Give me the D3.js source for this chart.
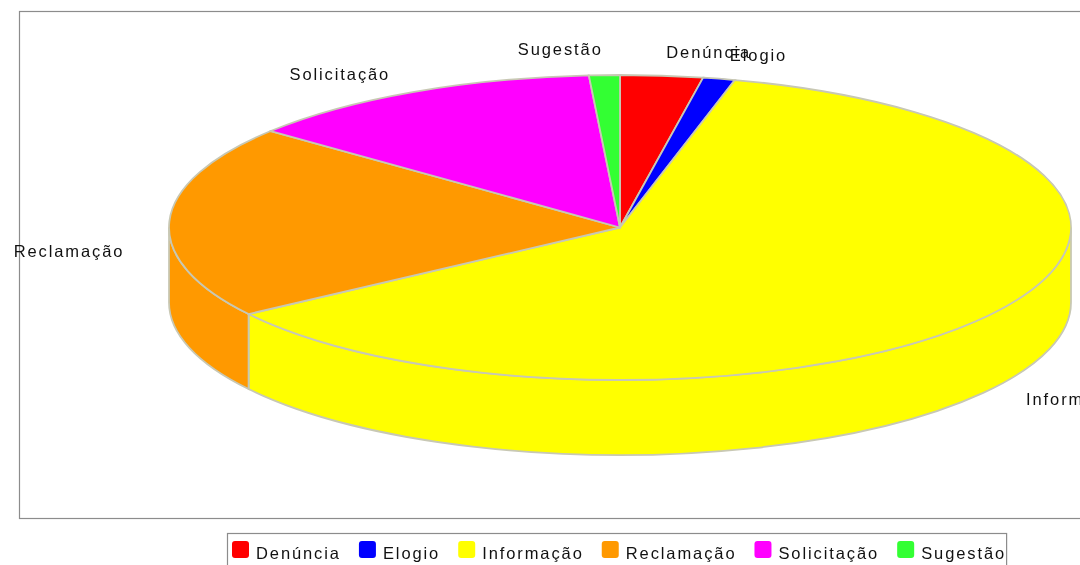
<!DOCTYPE html>
<html>
<head>
<meta charset="utf-8">
<script src="https://cdn.jsdelivr.net/npm/d3@7"></script>
<style>
  html, body { margin: 0; padding: 0; background: #fff; overflow: hidden; }
  svg { display: block; filter: blur(0.5px); }
  text { font-family: "Liberation Sans", sans-serif; font-size: 16.5px; fill: #111; letter-spacing: 1.9px; }
</style>
</head>
<body>
<div id="chart"></div>
<script>
var categories = ['Denúncia', 'Elogio', 'Informação', 'Reclamação', 'Solicitação', 'Sugestão'];
var values = [2.95, 1.15, 61.3, 20.5, 13.0, 1.1];
var colors = ['#ff0000', '#0000ff', '#ffff00', '#ff9900', '#ff00ff', '#33ff33'];
var labelNudgeX = [0, 0, -3, 4, 0, 0];
var labelNudgeY = [1, 0, -5, 0, 4, -1];

(function () {
  var width = 1080, height = 565;
  var cx = 620, cy = 227.5, rx = 451, ry = 152.5, depth = 75;
  var labelRx = 500, labelRy = 177;
  var squash = ry / rx;

  var svg = d3.select('#chart')
    .append('svg')
    .attr('width', width)
    .attr('height', height);

  var color = d3.scaleOrdinal().domain(categories).range(colors);

  // plot frame runs off the right of the picture
  svg.append('rect')
    .attr('x', 19.5).attr('y', 11.5)
    .attr('width', 1100).attr('height', 507)
    .attr('fill', '#fff')
    .attr('stroke', '#8c8c8c')
    .attr('stroke-width', 1.2);

  var pie = d3.pie().sort(null).value(function (d) { return d.value; });
  var slices = pie(categories.map(function (c, i) {
    return { name: c, value: values[i], nudgeX: labelNudgeX[i], nudgeY: labelNudgeY[i] + (c === 'Reclamação' ? 31 : 0) };
  }));

  var g = svg.append('g')
    .attr('transform', 'translate(' + cx + ',' + cy + ') scale(1,' + squash + ')');

  // side wall, only the front half of the rim shows (pi/2 to 3pi/2 from 12 o'clock)
  function wall(a0, a1) {
    var p = d3.path();
    var off = -Math.PI / 2; // d3.path angles start at 3 o'clock
    var dy = depth / squash;
    p.arc(0, 0, rx, a0 + off, a1 + off);
    p.lineTo(rx * Math.cos(a1 + off), rx * Math.sin(a1 + off) + dy);
    p.arc(0, dy, rx, a1 + off, a0 + off, true);
    p.closePath();
    return p.toString();
  }

  var front = slices.filter(function (s) {
    return s.endAngle > Math.PI / 2 && s.startAngle < 3 * Math.PI / 2;
  });

  g.selectAll('path.wall')
    .data(front)
    .enter().append('path')
    .attr('class', 'wall')
    .attr('d', function (s) {
      return wall(Math.max(s.startAngle, Math.PI / 2), Math.min(s.endAngle, 3 * Math.PI / 2));
    })
    .attr('fill', function (s) { return color(s.data.name); })
    .attr('stroke', '#c8c8b4')
    .attr('stroke-width', 1.8)
    .attr('vector-effect', 'non-scaling-stroke');

  var arc = d3.arc().innerRadius(0).outerRadius(rx);

  g.selectAll('path.top')
    .data(slices)
    .enter().append('path')
    .attr('class', 'top')
    .attr('d', arc)
    .attr('fill', function (s) { return color(s.data.name); })
    .attr('stroke', '#c8c8b4')
    .attr('stroke-width', 1.8)
    .attr('vector-effect', 'non-scaling-stroke');

  // slice labels sit on a larger ellipse, dropped by the depth at the front
  svg.selectAll('text.label')
    .data(slices)
    .enter().append('text')
    .attr('class', 'label')
    .attr('x', function (s) {
      return cx + labelRx * Math.sin((s.startAngle + s.endAngle) / 2) + s.data.nudgeX;
    })
    .attr('y', function (s) {
      var mid = (s.startAngle + s.endAngle) / 2;
      var y = cy - labelRy * Math.cos(mid) + s.data.nudgeY;
      return Math.cos(mid) < 0 ? y + depth : y;
    })
    .attr('dy', '0.35em')
    .attr('text-anchor', function (s) {
      return (s.startAngle + s.endAngle) / 2 < Math.PI ? 'start' : 'end';
    })
    .text(function (s) { return s.data.name; });

  // legend
  var legendX = 227, legendY = 533;
  var legend = svg.append('g');
  var box = legend.append('rect')
    .attr('x', legendX + 0.5).attr('y', legendY + 0.5)
    .attr('height', 40)
    .attr('fill', '#fff')
    .attr('stroke', '#8c8c8c')
    .attr('stroke-width', 1.2);

  var x = legendX + 5;
  categories.forEach(function (c) {
    legend.append('rect')
      .attr('x', x).attr('y', legendY + 8)
      .attr('width', 17).attr('height', 17)
      .attr('rx', 3)
      .attr('fill', color(c));
    var t = legend.append('text')
      .attr('x', x + 24).attr('y', legendY + 26)
      .text(c);
    x += 24 + t.node().getComputedTextLength() + 18;
  });
  box.attr('width', x - 18 - legendX);
})();
</script>
</body>
</html>
